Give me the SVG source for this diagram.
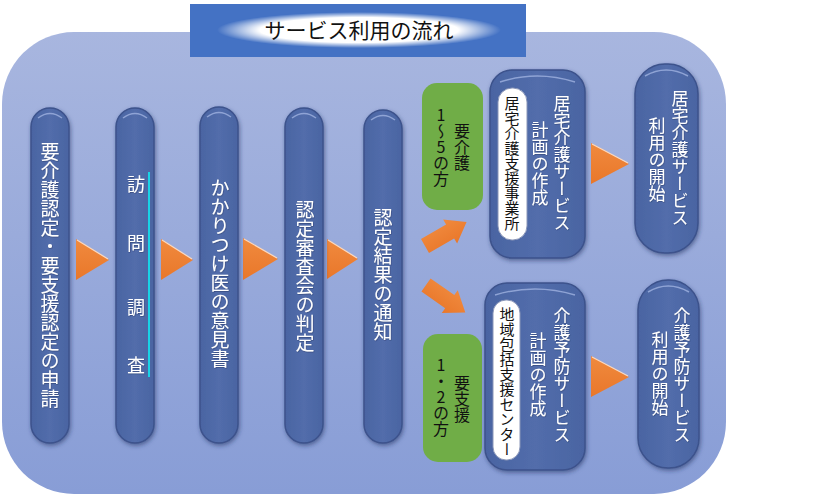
<svg xmlns="http://www.w3.org/2000/svg" width="819" height="498" viewBox="0 0 819 498">
<defs>
<linearGradient id="bg" x1="0" y1="0" x2="0" y2="1">
<stop offset="0" stop-color="#A8B6DF"/>
<stop offset="1" stop-color="#889DD6"/>
</linearGradient>
<radialGradient id="glow" cx="0.5" cy="0.5" r="0.5">
<stop offset="0" stop-color="#FFFFFF"/>
<stop offset="0.7" stop-color="#FFFFFF"/>
<stop offset="1" stop-color="#FFFFFF" stop-opacity="0"/>
</radialGradient>
<linearGradient id="pill" x1="0" y1="0" x2="1" y2="0">
<stop offset="0" stop-color="#4A64A2"/>
<stop offset="0.5" stop-color="#526DAB"/>
<stop offset="1" stop-color="#4A64A2"/>
</linearGradient>
<linearGradient id="orange" x1="0" y1="0" x2="0" y2="1">
<stop offset="0" stop-color="#F08A3E"/>
<stop offset="1" stop-color="#E9772A"/>
</linearGradient>
<filter id="sh" x="-30%" y="-10%" width="160%" height="120%">
<feDropShadow dx="1" dy="2" stdDeviation="2" flood-color="#1E2E5E" flood-opacity="0.55"/>
</filter>
<filter id="tsh" x="-20%" y="-20%" width="140%" height="140%">
<feDropShadow dx="0.5" dy="0.7" stdDeviation="0.5" flood-color="#1A2550" flood-opacity="0.5"/>
</filter>
</defs>
<style>
.pillar{fill:url(#pill);stroke:#3C528C;stroke-width:1.5;filter:url(#sh)}
.hl{fill:none;stroke:#9FB2E0;stroke-width:1.5;stroke-opacity:0.8}
.vt{font-family:"Noto Sans CJK JP","Noto Sans",sans-serif;writing-mode:vertical-rl;text-orientation:upright;text-anchor:middle;dominant-baseline:central}
.w{fill:#FFFFFF;filter:url(#tsh)}
.b{fill:#111111}
.green{fill:#70AD47}
.inner{fill:#FFFFFF;stroke:#8A96B8;stroke-width:1}
.tri{fill:url(#orange)}
.triedge{fill:none;stroke:#FBD9C0;stroke-width:1.2}
.arr{fill:url(#orange)}
</style>

<rect x="2" y="32" width="724" height="462" rx="72" ry="72" fill="url(#bg)"/>

<g id="title">
<rect x="190" y="4" width="336" height="53" fill="#4472C4"/>
<ellipse cx="359" cy="30" rx="142" ry="18" fill="url(#glow)"/>
<text x="359" y="29" font-family="'Noto Sans CJK JP','Noto Sans',sans-serif" font-size="21" fill="#111111" text-anchor="middle" dominant-baseline="central">サービス利用の流れ</text>
</g>

<g id="connectors">
<polygon class="tri" points="76,239 109,260 76,280"/>
<polyline class="triedge" points="77,240 108,259"/>
<polygon class="tri" points="161,239 193,260 161,280"/>
<polyline class="triedge" points="162,240 192,259"/>
<polygon class="tri" points="243,238 278,259 243,280"/>
<polyline class="triedge" points="244,239 277,258"/>
<polygon class="tri" points="327,239 358,259 327,279"/>
<polyline class="triedge" points="328,240 357,258"/>
<polygon class="tri" points="591,143 629,164 591,184"/>
<polyline class="triedge" points="592,144 628,163"/>
<polygon class="tri" points="591,356 629,377 591,397"/>
<polyline class="triedge" points="592,357 628,376"/>
<polygon class="arr" transform="translate(425,246) rotate(-30)" points="0,-8 29,-8 29,-14 48,0 29,14 29,8 0,8"/>
<polygon class="arr" transform="translate(426,285) rotate(35)" points="0,-8 29,-8 29,-14 48,0 29,14 29,8 0,8"/>
</g>

<g id="n1">
<rect class="pillar" x="31" y="108" width="38" height="335" rx="19"/>
<path class="hl" d="M38,118 Q50,109 62,118"/>
<text class="vt w" x="50" y="275" font-size="19">要介護認定・要支援認定の申請</text>
</g>

<g id="n2">
<rect class="pillar" x="116" y="108" width="38" height="335" rx="19"/>
<path class="hl" d="M123,118 Q135,109 147,118"/>
<line x1="149" y1="172" x2="149" y2="377" stroke="#19D3E6" stroke-width="2"/>
<text class="vt w" x="136" font-size="18"><tspan x="136" y="184">訪</tspan><tspan x="136" y="243">問</tspan><tspan x="136" y="307">調</tspan><tspan x="136" y="365">査</tspan></text>
</g>

<g id="n3">
<rect class="pillar" x="200" y="107" width="38" height="336" rx="19"/>
<path class="hl" d="M207,117 Q219,108 231,117"/>
<text class="vt w" x="220" y="273" font-size="19">かかりつけ医の意見書</text>
</g>

<g id="n4">
<rect class="pillar" x="285" y="108" width="38" height="335" rx="19"/>
<path class="hl" d="M292,118 Q304,109 316,118"/>
<text class="vt w" x="305" y="276" font-size="19">認定審査会の判定</text>
</g>

<g id="n5">
<rect class="pillar" x="364" y="110" width="38" height="333" rx="19"/>
<path class="hl" d="M371,120 Q383,111 395,120"/>
<text class="vt w" x="383" y="275" font-size="19">認定結果の通知</text>
</g>

<g id="g1">
<rect class="green" x="422" y="83" width="61" height="127" rx="15"/>
<text class="vt b" x="462" y="147" font-size="16">要介護</text>
<text class="vt b" x="441" y="147" font-size="16">1～5の方</text>
</g>

<g id="g2">
<rect class="green" x="423" y="334" width="59" height="128" rx="15"/>
<text class="vt b" x="462" y="399" font-size="16">要支援</text>
<text class="vt b" x="441" y="397" font-size="16">1・2の方</text>
</g>

<g id="nA">
<rect class="pillar" x="490" y="70" width="95" height="188" rx="22"/>
<path class="hl" d="M500,82 Q537,70 575,82"/>
<rect class="inner" x="498" y="88" width="29" height="152" rx="14"/>
<text class="vt b" x="512" y="163" font-size="15">居宅介護支援事業所</text>
<text class="vt w" x="562" y="163" font-size="17">居宅介護サービス</text>
<text class="vt w" x="540" y="164" font-size="17">計画の作成</text>
</g>

<g id="nB">
<rect class="pillar" x="485" y="283" width="100" height="187" rx="22"/>
<path class="hl" d="M495,295 Q535,283 575,295"/>
<rect class="inner" x="493" y="300" width="27" height="160" rx="13"/>
<text class="vt b" x="507" y="382" font-size="15">地域包括支援センター</text>
<text class="vt w" x="562" y="375" font-size="17">介護予防サービス</text>
<text class="vt w" x="538" y="375" font-size="17">計画の作成</text>
</g>

<g id="nC">
<rect class="pillar" x="635" y="64" width="63" height="189" rx="30"/>
<path class="hl" d="M645,76 Q666,64 688,76"/>
<text class="vt w" x="680" y="158" font-size="17">居宅介護サービス</text>
<text class="vt w" x="657" y="160" font-size="17">利用の開始</text>
</g>

<g id="nD">
<rect class="pillar" x="638" y="280" width="61" height="188" rx="30"/>
<path class="hl" d="M648,292 Q668,280 689,292"/>
<text class="vt w" x="682" y="375" font-size="17">介護予防サービス</text>
<text class="vt w" x="660" y="374" font-size="17">利用の開始</text>
</g>
</svg>
